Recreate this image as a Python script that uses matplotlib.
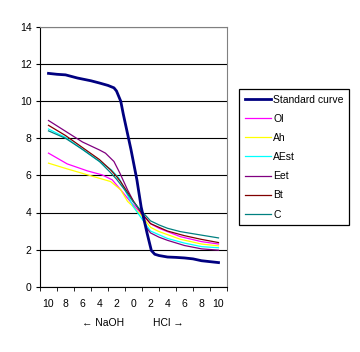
import matplotlib
matplotlib.use("Agg")
import matplotlib.pyplot as plt
from matplotlib.ticker import FixedLocator

plt.rcParams['font.family'] = ['Liberation Sans', 'DejaVu Sans']

# x: negative = mL NaOH, positive = mL HCl
std_x = [-10, -9, -8, -6.6, -5, -4, -3, -2.3, -2, -1.5, -1.2, -0.3, 0.4, 0.9, 1.6, 2.1, 2.5, 3, 4, 5, 6, 7, 8, 9, 10]
std_y = [11.5, 11.45, 11.42, 11.25, 11.1, 10.98, 10.85, 10.72, 10.55, 10.0, 9.3, 7.4, 5.76, 4.3, 2.88, 1.95, 1.75, 1.68, 1.6, 1.58, 1.55, 1.5, 1.4, 1.35, 1.3]

ol_x = [-10, -7.8, -5.4, -3.7, -2.5, -1.5, -0.3, 1, 2, 3, 5.5, 8, 10]
ol_y = [7.2, 6.62, 6.24, 6.03, 5.76, 5.22, 4.55, 3.9, 3.4, 3.15, 2.7, 2.43, 2.3]

ah_x = [-10, -7.8, -5.4, -2.7, -1.5, -0.7, 0, 1, 2, 3, 5.5, 8, 10]
ah_y = [6.66, 6.35, 6.03, 5.67, 5.22, 4.6, 4.3, 3.8, 3.2, 2.97, 2.56, 2.3, 2.2]

aest_x = [-10, -8, -6, -4, -2.6, -1.7, -1, 0, 1, 2, 3, 4, 6, 8, 10]
aest_y = [8.5, 8.05, 7.4, 6.75, 6.3, 5.85, 5.2, 4.3, 3.65, 3.0, 2.8, 2.6, 2.35, 2.16, 2.1]

eet_x = [-10, -6, -4, -3.3, -2.3, -1.6, -0.7, 0, 1, 1.5, 2, 3, 4, 6, 8, 10]
eet_y = [8.96, 7.8, 7.37, 7.2, 6.75, 6.12, 5.22, 4.6, 3.95, 3.2, 2.9, 2.67, 2.5, 2.22, 2.04, 1.97]

bt_x = [-10, -8, -6, -4, -2.7, -2, -1.5, -0.5, 0, 1, 2, 3, 4, 6, 8, 10]
bt_y = [8.7, 8.15, 7.5, 6.85, 6.3, 5.95, 5.65, 4.95, 4.6, 3.95, 3.4, 3.2, 3.0, 2.75, 2.55, 2.38]

c_x = [-10, -8, -6, -4, -2.7, -2, -1, 0, 1, 2, 3, 4, 5.5, 8, 10]
c_y = [8.4, 8.0, 7.4, 6.75, 6.15, 5.8, 5.2, 4.55, 4.05, 3.55, 3.33, 3.15, 2.97, 2.78, 2.63]

series = [
    ("Ol", ol_x, ol_y, "#FF00FF"),
    ("Ah", ah_x, ah_y, "#FFFF00"),
    ("AEst", aest_x, aest_y, "#00FFFF"),
    ("Eet", eet_x, eet_y, "#800080"),
    ("Bt", bt_x, bt_y, "#800000"),
    ("C", c_x, c_y, "#008080"),
]

fig = plt.figure(figsize=(3.6, 3.52), dpi=100)
ax = fig.add_axes([40 / 360, 65.3 / 352, 187 / 360, 259.7 / 352])

handles = []
h, = ax.plot(std_x, std_y, color="#000080", lw=2.0, label="Standard curve", zorder=4)
handles.append(h)
for name, xs, ys, col in series:
    h, = ax.plot(xs, ys, color=col, lw=0.9, label=name, zorder=3)
    handles.append(h)

ax.set_xlim(-11, 11)
ax.set_ylim(0, 14)
ax.set_yticks(range(0, 15, 2))
ax.yaxis.grid(True, color="black", lw=0.8)
ax.set_axisbelow(True)

ax.set_xticks(range(-10, 11, 2))
ax.set_xticklabels([str(abs(v)) for v in range(-10, 11, 2)])
ax.xaxis.set_minor_locator(FixedLocator(range(-11, 12, 2)))
ax.tick_params(axis="x", which="major", length=0, pad=9, labelsize=7.5)
ax.tick_params(axis="x", which="minor", length=3, direction="out")
ax.tick_params(axis="y", length=3, direction="out", labelsize=7.5, pad=3)
for s in ax.spines.values():
    s.set_linewidth(0.8)
ax.spines["left"].set_color("black")
ax.spines["bottom"].set_color("black")
ax.spines["top"].set_color("#808080")
ax.spines["right"].set_color("#808080")

fig.text(103 / 360, 1 - 323 / 352, "\u2190 NaOH", ha="center", va="center", fontsize=7.5)
fig.text(168 / 360, 1 - 323 / 352, "HCl \u2192", ha="center", va="center", fontsize=7.5)

leg = fig.legend(handles=handles, loc="upper left",
                 bbox_to_anchor=(239.3 / 360, 1 - 89.3 / 352),
                 fontsize=7.5, frameon=True, fancybox=False, framealpha=1,
                 edgecolor="black", handlelength=2.5, handletextpad=0.25,
                 labelspacing=0.88, borderpad=0.5, borderaxespad=0)
leg.get_frame().set_linewidth(0.9)

fig.savefig("out.png", dpi=100)
